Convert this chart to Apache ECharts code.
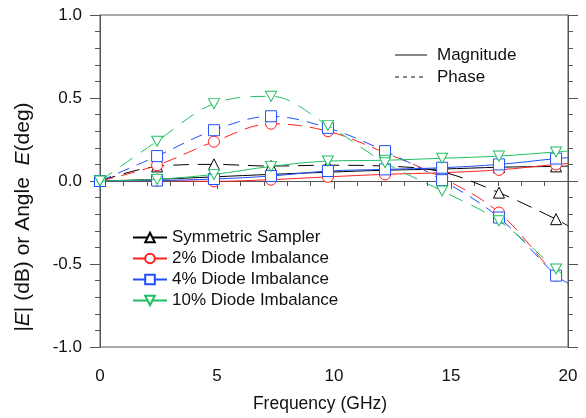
<!DOCTYPE html>
<html>
<head>
<meta charset="utf-8">
<script src="https://cdn.jsdelivr.net/npm/echarts@6/dist/echarts.min.js"></script>
<style>
  html, body { margin: 0; padding: 0; background: #fff; }
  #chart { width: 586px; height: 418px; }
</style>
</head>
<body>
<div id="chart"></div>
<script>
// sample frequencies (GHz); last point is the curve end without a marker
var freq = [0, 2.44, 4.87, 7.31, 9.74, 12.18, 14.62, 17.05, 19.49, 20];

var names = ['Symmetric Sampler', '2% Diode Imbalance', '4% Diode Imbalance', '10% Diode Imbalance'];
var colors = ['#000000', '#ff1f1f', '#1f4fff', '#1fc060'];
var symbols = ['triangle', 'circle', 'rect', 'path://M0,0 L10,0 L5,9 Z'];

// magnitude |E| (dB)
var magSym   = [0, 0.010, 0.025, 0.040, 0.053, 0.065, 0.072, 0.083, 0.088, 0.090];
var mag2     = [0, 0.002, -0.002, 0.008, 0.025, 0.040, 0.050, 0.067, 0.100, 0.105];
var mag4     = [0, 0.003, 0.012, 0.030, 0.060, 0.070, 0.080, 0.100, 0.135, 0.140];
var mag10    = [0, 0.010, 0.040, 0.088, 0.120, 0.125, 0.137, 0.150, 0.175, 0.180];

// phase angle E (deg)
var phSym    = [0, 0.088, 0.100, 0.090, 0.095, 0.090, 0.055, -0.070, -0.230, -0.270];
var ph2      = [0, 0.095, 0.237, 0.345, 0.300, 0.170, 0.020, -0.190, -0.570, -0.625];
var ph4      = [0, 0.150, 0.306, 0.390, 0.320, 0.180, 0.005, -0.220, -0.570, -0.615];
var ph10     = [0, 0.240, 0.466, 0.510, 0.335, 0.110, -0.060, -0.240, -0.530, -0.595];

var mags = [magSym, mag2, mag4, mag10];
var phases = [phSym, ph2, ph4, ph10];
var dashes = [[16, 9], [14, 8], [12, 8], [15, 10]];

var FONT = 'Liberation Sans, Arial, Helvetica, sans-serif';

function pts(vals) {
    return vals.map(function(v, i) {
        var p = { value: [freq[i], v] };
        if (i === vals.length - 1) p.symbol = 'none';
        return p;
    });
}

var myChart = echarts.init(document.getElementById('chart'), null, { renderer: 'canvas' });

var series = [];
for (var k = 0; k < 4; k++) {
    var base = {
        name: names[k],
        type: 'line',
        smooth: 0.35,
        symbol: symbols[k],
        symbolSize: k === 3 ? [11, 10] : 11,
        showAllSymbol: true,
        itemStyle: { color: '#fff', borderColor: colors[k], borderWidth: 1 },
        emphasis: { disabled: true },
        z: 3 + k
    };
    series.push(Object.assign({}, base, {
        lineStyle: { color: colors[k], width: 1 },
        data: pts(mags[k])
    }));
    series.push(Object.assign({}, base, {
        lineStyle: { color: colors[k], width: 1, type: dashes[k] },
        data: pts(phases[k])
    }));
}

var axisLine = { show: true, lineStyle: { color: '#555', width: 1 } };

var option = {
    animation: false,
    backgroundColor: '#fff',
    textStyle: { fontFamily: FONT },
    grid: {
        left: 100, right: 18, top: 15, bottom: 64,
        show: true, borderColor: '#555', borderWidth: 1
    },
    legend: {
        data: names,
        orient: 'vertical',
        left: 127,
        top: 224,
        itemWidth: 34,
        itemHeight: 12,
        itemGap: 4,
        textStyle: { fontFamily: FONT, fontSize: 17, color: '#111', lineHeight: 17 },
        selectedMode: false
    },
    xAxis: {
        type: 'value',
        min: 0, max: 20, interval: 5,
        name: 'Frequency (GHz)',
        nameLocation: 'middle',
        nameGap: 48,
        nameTextStyle: { fontFamily: FONT, fontSize: 17.5, color: '#111', padding: [0, 28, 0, 0] },
        axisLine: axisLine,
        axisTick: { show: true, inside: false, length: 8, lineStyle: { color: '#555' } },
        minorTick: { show: true, splitNumber: 5, length: 5, lineStyle: { color: '#555' } },
        splitLine: { show: false },
        axisLabel: { fontFamily: FONT, fontSize: 17, color: '#111', margin: 21 }
    },
    yAxis: [{
        type: 'value',
        min: -1, max: 1, interval: 0.5,
        axisLine: axisLine,
        axisTick: { show: true, inside: false, length: 10, lineStyle: { color: '#555' } },
        minorTick: { show: true, splitNumber: 5, length: 5, lineStyle: { color: '#555' } },
        splitLine: { show: false },
        axisLabel: {
            fontFamily: FONT, fontSize: 17, color: '#111', margin: 18,
            formatter: function(v) { return v.toFixed(1); }
        }
    }, {
        type: 'value',
        position: 'right',
        min: -1, max: 1, interval: 0.5,
        axisLine: axisLine,
        axisTick: { show: true, inside: false, length: 10, lineStyle: { color: '#555' } },
        minorTick: { show: true, splitNumber: 5, length: 5, lineStyle: { color: '#555' } },
        splitLine: { show: false },
        axisLabel: { show: false }
    }],
    graphic: [
        // y axis title with italic E
        {
            type: 'text',
            x: 23, y: 217,
            rotation: Math.PI / 2,
            style: {
                text: '|{i|E}| (dB) or Angle  {i|E}(deg)',
                font: '21px ' + FONT,
                fill: '#111',
                align: 'center',
                verticalAlign: 'middle',
                rich: { i: { fontStyle: 'italic', fontSize: 21, fontFamily: FONT, fill: '#111' } }
            }
        },
        // line-style key
        { type: 'line', shape: { x1: 395, y1: 55, x2: 427, y2: 55 }, style: { stroke: '#111', lineWidth: 1 } },
        { type: 'text', x: 437, y: 55, style: { text: 'Magnitude', font: '17px ' + FONT, fill: '#111', verticalAlign: 'middle' } },
        { type: 'line', shape: { x1: 395, y1: 77, x2: 427, y2: 77 }, style: { stroke: '#111', lineWidth: 1, lineDash: [4, 4] } },
        { type: 'text', x: 437, y: 77, style: { text: 'Phase', font: '17px ' + FONT, fill: '#111', verticalAlign: 'middle' } }
    ],
    series: series
};

myChart.setOption(option);
</script>
</body>
</html>
